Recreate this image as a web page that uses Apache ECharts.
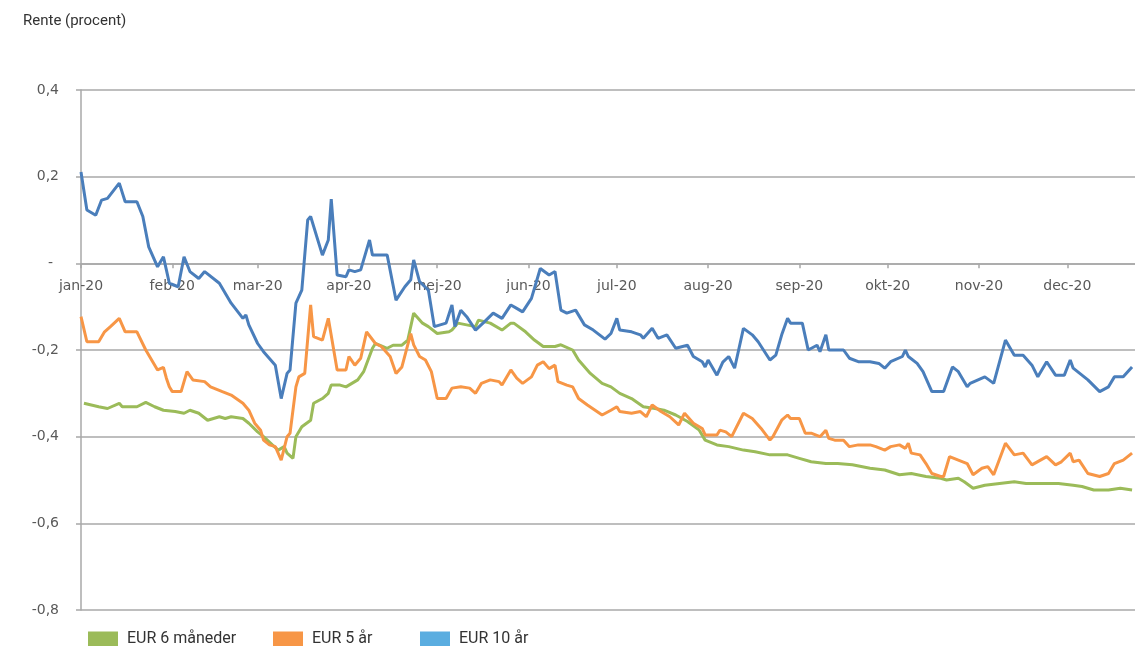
<!DOCTYPE html>
<html>
<head>
<meta charset="utf-8">
<script src="https://cdn.jsdelivr.net/npm/echarts@6/dist/echarts.min.js"></script>
<style>
  html, body { margin: 0; padding: 0; background: #ffffff; }
  #chart { width: 1135px; height: 646px; }
</style>
</head>
<body>
<div id="chart"></div>
<script>
// Renter 2020 (procent), daglige noteringer
const YEAR = 2020;
const monthLabels = ['jan-20', 'feb-20', 'mar-20', 'apr-20', 'mej-20', 'jun-20',
  'jul-20', 'aug-20', 'sep-20', 'okt-20', 'nov-20', 'dec-20'];
const seriesNames = ['EUR 6 måneder', 'EUR 5 år', 'EUR 10 år'];
const yTickMin = -0.8;
const yTickMax = 0.4;
const yTickStep = 0.2;

// EUR 6 måneder
const eur6mDates = ['01-02','01-07','01-10','01-14','01-15','01-20','01-23','01-26','01-29','02-02','02-05','02-07','02-10','02-13','02-17','02-19','02-21','02-25','02-27','03-01','03-03','03-06','03-08','03-10','03-11','03-13','03-14','03-16','03-19','03-20','03-23','03-25','03-26','03-29','03-31','04-02','04-04','04-06','04-09','04-10','04-14','04-16','04-19','04-21','04-23','04-26','04-28','05-01','05-05','05-06','05-08','05-11','05-14','05-15','05-19','05-23','05-26','05-27','05-31','06-03','06-06','06-10','06-12','06-16','06-18','06-22','06-26','06-29','07-02','07-06','07-10','07-14','07-17','07-21','07-25','07-29','07-31','08-04','08-08','08-13','08-17','08-22','08-28','09-01','09-05','09-10','09-14','09-19','09-25','09-30','10-05','10-09','10-14','10-19','10-21','10-25','10-27','10-30','11-03','11-08','11-13','11-17','11-23','11-28','12-03','12-06','12-10','12-15','12-19','12-23'];
const eur6mValues = [-0.323,-0.331,-0.335,-0.323,-0.331,-0.331,-0.321,-0.331,-0.339,-0.342,-0.346,-0.339,-0.346,-0.362,-0.354,-0.358,-0.354,-0.358,-0.369,-0.389,-0.400,-0.419,-0.431,-0.423,-0.438,-0.450,-0.400,-0.377,-0.362,-0.323,-0.312,-0.300,-0.281,-0.281,-0.285,-0.277,-0.269,-0.250,-0.196,-0.185,-0.196,-0.189,-0.189,-0.177,-0.115,-0.138,-0.146,-0.162,-0.158,-0.154,-0.138,-0.142,-0.146,-0.131,-0.138,-0.154,-0.138,-0.138,-0.158,-0.177,-0.192,-0.192,-0.188,-0.200,-0.223,-0.254,-0.277,-0.285,-0.300,-0.312,-0.331,-0.335,-0.339,-0.350,-0.365,-0.385,-0.408,-0.419,-0.423,-0.431,-0.435,-0.442,-0.442,-0.450,-0.458,-0.462,-0.462,-0.465,-0.473,-0.477,-0.488,-0.485,-0.492,-0.496,-0.500,-0.496,-0.504,-0.519,-0.512,-0.508,-0.504,-0.508,-0.508,-0.508,-0.512,-0.515,-0.523,-0.523,-0.519,-0.523];

// EUR 5 år
const eur5yDates = ['01-01','01-03','01-07','01-09','01-11','01-14','01-16','01-20','01-23','01-27','01-29','01-30','01-31','02-01','02-04','02-06','02-08','02-12','02-14','02-18','02-21','02-25','02-27','02-29','03-02','03-03','03-05','03-07','03-09','03-11','03-12','03-14','03-15','03-17','03-19','03-20','03-23','03-25','03-28','03-31','04-01','04-03','04-05','04-07','04-10','04-12','04-15','04-17','04-19','04-22','04-23','04-25','04-27','04-29','05-01','05-04','05-06','05-09','05-12','05-14','05-16','05-19','05-22','05-23','05-26','05-28','05-30','06-02','06-04','06-06','06-08','06-10','06-11','06-14','06-16','06-18','06-21','06-26','06-29','07-01','07-02','07-06','07-09','07-11','07-13','07-16','07-19','07-22','07-24','07-27','07-30','07-31','08-04','08-05','08-07','08-09','08-13','08-16','08-19','08-22','08-23','08-26','08-28','08-29','09-01','09-03','09-05','09-08','09-10','09-11','09-13','09-16','09-18','09-21','09-25','09-27','09-30','10-02','10-05','10-07','10-08','10-09','10-12','10-14','10-16','10-19','10-20','10-22','10-25','10-28','10-30','11-02','11-04','11-06','11-10','11-13','11-16','11-19','11-24','11-27','11-29','12-02','12-03','12-05','12-08','12-12','12-15','12-17','12-20','12-23'];
const eur5yValues = [-0.123,-0.181,-0.181,-0.158,-0.146,-0.127,-0.158,-0.158,-0.200,-0.246,-0.240,-0.265,-0.285,-0.296,-0.296,-0.250,-0.269,-0.273,-0.285,-0.296,-0.304,-0.323,-0.339,-0.369,-0.385,-0.408,-0.419,-0.423,-0.454,-0.400,-0.392,-0.285,-0.262,-0.254,-0.096,-0.169,-0.177,-0.127,-0.246,-0.246,-0.215,-0.235,-0.219,-0.158,-0.185,-0.192,-0.215,-0.254,-0.239,-0.162,-0.188,-0.215,-0.223,-0.250,-0.312,-0.312,-0.288,-0.285,-0.288,-0.300,-0.277,-0.269,-0.273,-0.281,-0.246,-0.265,-0.277,-0.262,-0.235,-0.227,-0.243,-0.235,-0.273,-0.281,-0.285,-0.312,-0.327,-0.350,-0.339,-0.331,-0.342,-0.346,-0.342,-0.354,-0.327,-0.342,-0.354,-0.373,-0.346,-0.369,-0.381,-0.396,-0.396,-0.385,-0.389,-0.400,-0.346,-0.358,-0.381,-0.408,-0.400,-0.362,-0.350,-0.358,-0.358,-0.392,-0.392,-0.400,-0.385,-0.404,-0.408,-0.408,-0.423,-0.419,-0.419,-0.423,-0.431,-0.423,-0.419,-0.427,-0.415,-0.438,-0.442,-0.462,-0.485,-0.492,-0.492,-0.446,-0.454,-0.462,-0.488,-0.473,-0.469,-0.488,-0.415,-0.442,-0.438,-0.465,-0.446,-0.465,-0.458,-0.438,-0.458,-0.454,-0.485,-0.492,-0.485,-0.462,-0.454,-0.438];

// EUR 10 år
const eur10yDates = ['01-01','01-03','01-06','01-08','01-10','01-14','01-16','01-20','01-22','01-24','01-27','01-29','01-30','01-31','02-03','02-05','02-07','02-10','02-12','02-17','02-21','02-25','02-26','02-27','03-01','03-03','03-07','03-09','03-11','03-12','03-14','03-16','03-18','03-19','03-23','03-25','03-26','03-28','03-31','04-01','04-03','04-05','04-08','04-09','04-14','04-17','04-20','04-22','04-23','04-25','04-28','04-30','05-04','05-06','05-07','05-09','05-11','05-14','05-17','05-20','05-23','05-26','05-28','05-30','06-02','06-05','06-08','06-10','06-12','06-14','06-17','06-20','06-23','06-27','06-29','07-01','07-02','07-06','07-09','07-10','07-13','07-15','07-18','07-21','07-25','07-27','07-30','07-31','08-01','08-04','08-06','08-08','08-10','08-13','08-16','08-18','08-22','08-24','08-26','08-28','08-29','09-02','09-04','09-07','09-08','09-10','09-11','09-16','09-18','09-21','09-25','09-28','09-30','10-02','10-06','10-07','10-08','10-11','10-13','10-16','10-20','10-23','10-25','10-28','10-29','11-03','11-06','11-10','11-13','11-16','11-19','11-21','11-24','11-27','11-30','12-02','12-03','12-08','12-12','12-15','12-17','12-20','12-23'];
const eur10yValues = [0.211,0.123,0.111,0.146,0.150,0.185,0.142,0.142,0.108,0.038,-0.008,0.015,-0.015,-0.046,-0.054,0.015,-0.019,-0.035,-0.019,-0.046,-0.092,-0.127,-0.119,-0.142,-0.185,-0.204,-0.235,-0.312,-0.254,-0.246,-0.092,-0.062,0.100,0.108,0.019,0.054,0.148,-0.027,-0.031,-0.015,-0.019,-0.015,0.054,0.019,0.019,-0.085,-0.054,-0.038,0.008,-0.042,-0.062,-0.146,-0.138,-0.096,-0.146,-0.108,-0.123,-0.154,-0.135,-0.115,-0.127,-0.096,-0.104,-0.112,-0.081,-0.012,-0.027,-0.019,-0.108,-0.115,-0.108,-0.142,-0.154,-0.175,-0.162,-0.127,-0.154,-0.158,-0.165,-0.173,-0.150,-0.173,-0.165,-0.196,-0.189,-0.215,-0.227,-0.239,-0.223,-0.258,-0.228,-0.215,-0.242,-0.150,-0.165,-0.181,-0.223,-0.212,-0.165,-0.127,-0.138,-0.138,-0.200,-0.189,-0.204,-0.165,-0.200,-0.200,-0.219,-0.227,-0.227,-0.231,-0.242,-0.227,-0.215,-0.200,-0.215,-0.231,-0.250,-0.296,-0.296,-0.239,-0.250,-0.285,-0.277,-0.262,-0.277,-0.177,-0.212,-0.212,-0.235,-0.262,-0.227,-0.258,-0.258,-0.223,-0.242,-0.269,-0.296,-0.285,-0.262,-0.262,-0.239];

const lineColors = ['#9bbb59', '#f79646', '#4a7ebb'];
const legendColors = ['#9bbb59', '#f79646', '#5aade0'];
const legendLefts = [88, 273, 420];
const gridColor = '#a8a8a8';
const labelColor = '#595959';

const CHART_H = 646;
const GRID_TOP = 90;
const GRID_BOTTOM = 36;

// 'MM-DD' -> timestamp (local time) on the value axis
function toTime(md) {
  const p = md.split('-');
  return new Date(YEAR, Number(p[0]) - 1, Number(p[1])).getTime();
}
function toPairs(dates, values) {
  return dates.map(function (d, i) { return [toTime(d), values[i]]; });
}

const monthStarts = monthLabels.map(function (_, i) { return new Date(YEAR, i, 1).getTime(); });

function xLabel(v) {
  const i = monthStarts.indexOf(v);
  return i >= 0 ? monthLabels[i] : '';
}

function yLabel(v) {
  const r = Math.round(v * 10) / 10;
  if (r === 0) return '{z|-}';
  return String(r).replace('.', ',');
}

// the date axis crosses the value axis at 0: lift it from the grid bottom to that level
const plotHeight = CHART_H - GRID_TOP - GRID_BOTTOM;
const zeroLift = plotHeight * (0 - yTickMin) / (yTickMax - yTickMin);

const chart = echarts.init(document.getElementById('chart'));
chart.setOption({
  animation: false,
  backgroundColor: '#ffffff',
  title: {
    text: 'Rente (procent)',
    left: 18,
    top: 9,
    textStyle: { fontFamily: 'Roboto', fontSize: 15, fontWeight: 'normal', color: '#333333' }
  },
  // one legend block per series so each entry sits at its own x position
  legend: seriesNames.map(function (n, i) {
    return {
      left: legendLefts[i],
      top: 631,
      padding: 0,
      icon: 'rect',
      itemWidth: 30,
      itemHeight: 15,
      textStyle: { fontFamily: 'Roboto', fontSize: 16, color: '#333333', padding: [0, 0, 0, 4] },
      data: [{ name: n, itemStyle: { color: legendColors[i] } }]
    };
  }),
  grid: { left: 81, right: 0, top: GRID_TOP, bottom: GRID_BOTTOM, containLabel: false },
  xAxis: {
    type: 'value',
    min: new Date(YEAR, 0, 1).getTime(),
    max: new Date(YEAR, 11, 24).getTime(),
    offset: -zeroLift,
    axisLine: { show: true, onZero: false, lineStyle: { color: gridColor, width: 1.5 } },
    axisTick: { show: true, customValues: monthStarts, length: 5, lineStyle: { color: gridColor, width: 1.5 } },
    axisLabel: {
      customValues: monthStarts,
      formatter: xLabel,
      color: labelColor,
      fontFamily: 'DejaVu Sans',
      fontSize: 14,
      margin: 16
    },
    splitLine: { show: false }
  },
  yAxis: {
    type: 'value',
    min: yTickMin,
    max: yTickMax,
    interval: yTickStep,
    axisLine: { show: true, onZero: false, lineStyle: { color: gridColor, width: 1.5 } },
    axisTick: { show: true, length: 5, lineStyle: { color: gridColor, width: 1.5 } },
    splitLine: { show: true, lineStyle: { color: gridColor, width: 1.5 } },
    axisLabel: {
      formatter: yLabel,
      color: labelColor,
      fontFamily: 'DejaVu Sans',
      fontSize: 14,
      margin: 22,
      rich: { z: { color: labelColor, fontFamily: 'DejaVu Sans', fontSize: 14, padding: [0, 6, 0, 0] } }
    }
  },
  series: [
    { name: seriesNames[0], data: toPairs(eur6mDates, eur6mValues), color: lineColors[0] },
    { name: seriesNames[1], data: toPairs(eur5yDates, eur5yValues), color: lineColors[1] },
    { name: seriesNames[2], data: toPairs(eur10yDates, eur10yValues), color: lineColors[2] }
  ].map(function (s) {
    return Object.assign({
      type: 'line',
      showSymbol: false,
      symbol: 'none',
      lineStyle: { width: 3 },
      emphasis: { disabled: true }
    }, s);
  })
});
</script>
</body>
</html>
